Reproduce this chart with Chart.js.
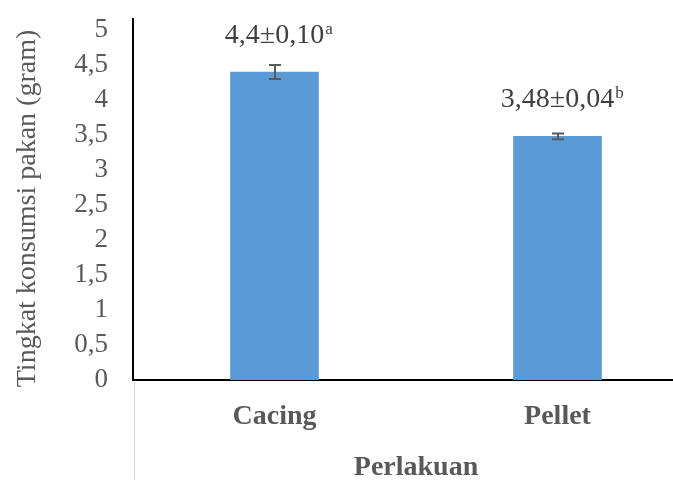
<!DOCTYPE html>
<html>
<head>
<meta charset="utf-8">
<script src="https://cdn.jsdelivr.net/npm/chart.js@4.4.1/dist/chart.umd.min.js"></script>
<style>
html, body { margin: 0; padding: 0; background: #fff; overflow: hidden; width: 673px; height: 480px; }
canvas { display: block; }
</style>
</head>
<body>
<canvas id="c" width="700" height="480"></canvas>
<script>
const categories = ['Cacing', 'Pellet'];
const means = [4.4, 3.48];
const errors = [0.10, 0.04];
const labelMain = ['4,4\u00b10,10', '3,48\u00b10,04'];
const labelSup = ['a', 'b'];
const yTicks = [0, 0.5, 1, 1.5, 2, 2.5, 3, 3.5, 4, 4.5, 5];
const yMax = 5.157;
const yTitle = 'Tingkat konsumsi pakan (gram)';

const SERIF = '"Liberation Serif", "Times New Roman", serif';

const extras = {
  id: 'extras',
  afterDatasetsDraw(chart) {
    const ctx = chart.ctx;
    const meta = chart.getDatasetMeta(0);
    const ys = chart.scales.y;
    const area = chart.chartArea;
    ctx.save();
    // faint category boundary line below axis
    ctx.strokeStyle = '#d9d9d9';
    ctx.lineWidth = 1;
    ctx.beginPath();
    ctx.moveTo(Math.round(area.left) + 1.5, area.bottom + 2);
    ctx.lineTo(Math.round(area.left) + 1.5, chart.height);
    ctx.stroke();
    // error bars
    ctx.strokeStyle = '#595959';
    ctx.lineWidth = 2;
    meta.data.forEach((bar, i) => {
      const x = Math.round(bar.x);
      const yt = ys.getPixelForValue(means[i] + errors[i]);
      const yb = ys.getPixelForValue(means[i] - errors[i]);
      ctx.beginPath();
      ctx.moveTo(x, yt); ctx.lineTo(x, yb);
      ctx.moveTo(x - 6, yt); ctx.lineTo(x + 6, yt);
      ctx.moveTo(x - 6, yb); ctx.lineTo(x + 6, yb);
      ctx.stroke();
    });
    // data labels
    ctx.fillStyle = '#404040';
    ctx.textBaseline = 'alphabetic';
    meta.data.forEach((bar, i) => {
      const base = bar.y - 29;
      ctx.font = '28px ' + SERIF;
      const wm = ctx.measureText(labelMain[i]).width;
      const x0 = bar.x - wm / 2;
      ctx.textAlign = 'left';
      ctx.fillText(labelMain[i], x0, base);
      ctx.font = '17px ' + SERIF;
      ctx.fillText(labelSup[i], x0 + wm + 1, base - 9);
    });
    // y axis title
    ctx.fillStyle = '#595959';
    ctx.font = '28px ' + SERIF;
    ctx.textAlign = 'center';
    ctx.textBaseline = 'middle';
    ctx.translate(28, (area.top + area.bottom) / 2 + 9);
    ctx.rotate(-Math.PI / 2);
    ctx.fillText(yTitle, 0, 0);
    ctx.restore();
  }
};

new Chart(document.getElementById('c'), {
  type: 'bar',
  data: {
    labels: categories,
    datasets: [{
      data: means,
      backgroundColor: '#5b9bd5',
      borderWidth: 0,
      barThickness: 88
    }]
  },
  options: {
    responsive: false,
    animation: false,
    devicePixelRatio: 1,
    layout: { padding: { top: 19, right: 1, left: 0, bottom: 0 } },
    plugins: { legend: { display: false }, tooltip: { enabled: false } },
    scales: {
      x: {
        type: 'category',
        offset: true,
        grid: { display: false, drawTicks: false },
        border: { display: true, color: '#000', width: 2 },
        ticks: { font: { family: SERIF, size: 28, weight: 'bold' }, color: '#595959', padding: 20 },
        title: { display: true, text: 'Perlakuan', font: { family: SERIF, size: 28, weight: 'bold', lineHeight: 0.86 }, color: '#595959', padding: 0 },
        afterFit(scale) { scale.height = 100; scale.paddingLeft = 0; scale.paddingRight = 0; }
      },
      y: {
        min: 0,
        max: yMax,
        afterBuildTicks(scale) { scale.ticks = yTicks.map(v => ({ value: v })); },
        grid: { display: false, drawTicks: false },
        border: { display: true, color: '#000', width: 2 },
        ticks: {
          autoSkip: false,
          font: { family: SERIF, size: 27 },
          color: '#595959',
          padding: 25,
          callback: v => String(v).replace('.', ',')
        },
        title: { display: false },
        afterFit(scale) { scale.width = 133; scale.paddingTop = 0; scale.paddingBottom = 0; }
      }
    }
  },
  plugins: [extras]
});
</script>
</body>
</html>
